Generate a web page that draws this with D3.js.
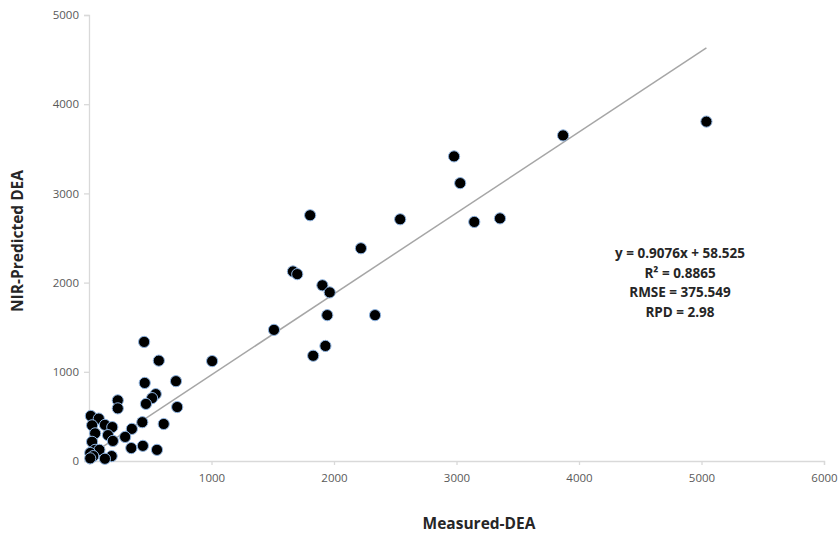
<!DOCTYPE html>
<html>
<head>
<meta charset="utf-8">
<script src="https://cdn.jsdelivr.net/npm/d3@7/dist/d3.min.js"></script>
<style>
  body { margin: 0; background: #fff; }
  svg { display: block; font-family: "Open Sans", sans-serif; }
</style>
</head>
<body>
<svg id="chart"></svg>
<script>
// measured vs predicted DEA
let measured = [5040, 3870, 2980, 3030, 3145, 3355, 2540, 2220, 1805, 1665, 1700, 1905, 1965, 1945, 2335, 1930, 1830, 1510, 1005,
  450, 570, 455, 710, 235, 235, 545, 515, 465, 720, 435, 610, 350, 295, 440, 345, 555,
  15, 80, 25, 130, 190, 50, 155, 195, 25, 50, 85, 10, 185, 130, 35, 10];
let predicted = [3805, 3650, 3415, 3115, 2680, 2720, 2710, 2385, 2755, 2125, 2095, 1970, 1890, 1635, 1635, 1290, 1180, 1470, 1120,
  1335, 1125, 875, 895, 680, 590, 750, 705, 640, 605, 435, 415, 360, 270, 170, 145, 125,
  505, 475, 400, 405, 380, 310, 290, 225, 215, 125, 125, 90, 55, 25, 55, 30];

let xTicks = [1000, 2000, 3000, 4000, 5000, 6000];
let yTicks = [0, 1000, 2000, 3000, 4000, 5000];
let slope = 0.9076, intercept = 58.525;
let statsText = ["y = 0.9076x + 58.525", "R\u00b2 = 0.8865", "RMSE = 375.549", "RPD = 2.98"];

var width = 840, height = 533;
var plotLeft = 89, plotRight = 824, plotTop = 15, plotBottom = 461;

var svg = d3.select("#chart").attr("width", width).attr("height", height);

var x = d3.scaleLinear().domain([0, 6000]).range([plotLeft, plotRight]);
var y = d3.scaleLinear().domain([0, 5000]).range([plotBottom, plotTop]);

var yAxis = svg.append("g")
    .attr("transform", "translate(" + plotLeft + ",0)")
    .call(d3.axisLeft(y).tickValues(yTicks).tickFormat(d3.format("d")).tickSize(5).tickPadding(5));
var xAxis = svg.append("g")
    .attr("transform", "translate(0," + plotBottom + ")")
    .call(d3.axisBottom(x).tickValues(xTicks).tickFormat(d3.format("d")).tickSize(4).tickPadding(9));

[xAxis, yAxis].forEach(function(g) {
  g.selectAll("path, line").attr("stroke", "#d9d9d9").attr("stroke-width", 1.3);
  g.selectAll("text").attr("fill", "#595959").style("font-size", "11.5px")
    .style("font-family", "'Open Sans', sans-serif");
});

// trend line
svg.append("line")
    .attr("x1", x(0)).attr("y1", y(intercept))
    .attr("x2", x(5040)).attr("y2", y(slope * 5040 + intercept))
    .attr("stroke", "#a6a6a6")
    .attr("stroke-width", 1.5);

svg.selectAll("circle")
    .data(measured)
    .enter()
    .append("circle")
    .attr("cx", function(d) { return x(d); })
    .attr("cy", function(d, i) { return y(predicted[i]); })
    .attr("r", 5.6)
    .attr("fill", "#000")
    .attr("stroke", "#8fb4e0")
    .attr("stroke-width", 1);

svg.append("g").selectAll("text")
    .data(statsText)
    .enter()
    .append("text")
    .attr("x", 680)
    .attr("y", function(d, i) { return 258 + i * 19.5; })
    .attr("text-anchor", "middle")
    .attr("font-weight", "bold")
    .attr("font-size", "13.5px")
    .attr("fill", "#262626")
    .text(function(d) { return d; });

svg.append("text")
    .attr("x", 479).attr("y", 529)
    .attr("text-anchor", "middle")
    .attr("font-weight", "bold")
    .attr("font-size", "15.5px")
    .attr("fill", "#262626")
    .text("Measured-DEA");

svg.append("text")
    .attr("transform", "translate(23,241) rotate(-90)")
    .attr("text-anchor", "middle")
    .attr("font-weight", "bold")
    .attr("font-size", "15.5px")
    .attr("fill", "#262626")
    .text("NIR-Predicted DEA");
</script>
</body>
</html>
